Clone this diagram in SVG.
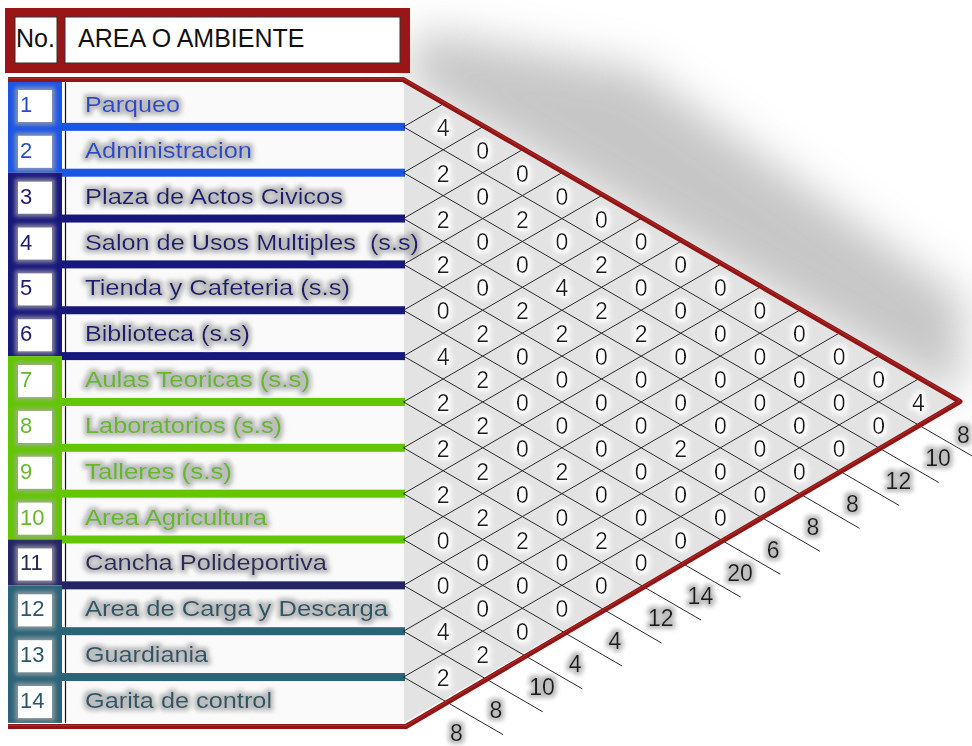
<svg xmlns="http://www.w3.org/2000/svg" width="972" height="746" viewBox="0 0 972 746">
<defs>
<style>
.t{font-family:"Liberation Sans",Arial,sans-serif}
.hd{font-size:25px;fill:#111}
.nm{font-size:22px}
.no{font-size:22px}
.v{font-size:23px;fill:#1a1a1a;text-anchor:middle}
.tot{font-size:23px;fill:#1a1a1a}
.grid line{stroke:#2a2a2a;stroke-width:1}
.blue{fill:#1b55e6}.navy{fill:#17177c}.green{fill:#62c600}.navy2{fill:#252566}.teal{fill:#2b6378}
.tblue{fill:#2b4bc8}.tnavy{fill:#1e1e70}.tgreen{fill:#66b82a}.tnavy2{fill:#2a2a5e}.tteal{fill:#2c5868}
.box{fill:#fff}
</style>
<filter id="halo" x="-20%" y="-40%" width="140%" height="180%">
<feMorphology in="SourceAlpha" operator="dilate" radius="2.5" result="d"/>
<feGaussianBlur in="d" stdDeviation="2" result="b"/>
<feFlood flood-color="#a8a8a8" flood-opacity="0.75"/>
<feComposite in2="b" operator="in" result="g"/>
<feMerge><feMergeNode in="g"/><feMergeNode in="SourceGraphic"/></feMerge>
</filter>
<filter id="wglow" x="-20%" y="-40%" width="140%" height="180%">
<feMorphology in="SourceAlpha" operator="dilate" radius="3" result="d"/>
<feGaussianBlur in="d" stdDeviation="2.5" result="b"/>
<feFlood flood-color="#ffffff"/>
<feComposite in2="b" operator="in" result="g"/>
<feMerge><feMergeNode in="g"/><feMergeNode in="SourceGraphic"/></feMerge>
</filter>
<filter id="blur" x="-30%" y="-30%" width="160%" height="160%"><feGaussianBlur stdDeviation="22"/></filter>
</defs>
<rect width="972" height="746" fill="#fff"/>
<!-- soft shadow top-right -->
<polygon points="420,30 640,70 965,300 958,400 405,82" fill="#b4b4b4" opacity="0.75" filter="url(#blur)"/>

<!-- header -->
<g id="header">
<rect x="5" y="8" width="405" height="65" fill="#9a1616"/>
<rect x="15" y="17" width="42" height="46" fill="#fff" stroke="#333" stroke-width="1"/>
<rect x="65" y="17" width="335" height="46" fill="#fff" stroke="#333" stroke-width="1"/>
<text class="t hd" x="16" y="47">No.</text>
<text class="t hd" x="78" y="47">AREA O AMBIENTE</text>
</g>

<!-- matrix background -->
<polygon points="403.5,81 957.9,401.95 403.5,722.9" fill="#e3e3e3"/>
<rect x="65" y="81" width="339" height="642" fill="#fafafa"/>

<!-- left number column -->
<g id="numcol">
<rect x="8" y="81" width="54" height="91.7" class="blue"/>
<rect x="8" y="172.7" width="54" height="183.4" class="navy"/>
<rect x="8" y="356.1" width="54" height="183.4" class="green"/>
<rect x="8" y="539.5" width="54" height="45.85" class="navy2"/>
<rect x="8" y="585.35" width="54" height="137.55" class="teal"/>
</g>
<line x1="65.5" y1="81" x2="65.5" y2="723" stroke="#111" stroke-width="1.2"/>

<!-- separator bars -->
<g id="bars">
<rect x="62" y="122.85" width="343" height="8" class="blue"/>
<rect x="62" y="168.7" width="343" height="8" class="blue"/>
<rect x="62" y="214.55" width="343" height="8" class="navy"/>
<rect x="62" y="260.4" width="343" height="8" class="navy"/>
<rect x="62" y="306.25" width="343" height="8" class="navy"/>
<rect x="62" y="352.1" width="343" height="8" class="navy"/>
<rect x="62" y="397.95" width="343" height="8" class="green"/>
<rect x="62" y="443.8" width="343" height="8" class="green"/>
<rect x="62" y="489.65" width="343" height="8" class="green"/>
<rect x="62" y="535.5" width="343" height="8" class="green"/>
<rect x="62" y="581.35" width="343" height="8" class="navy2"/>
<rect x="62" y="627.2" width="343" height="8" class="teal"/>
<rect x="62" y="673.05" width="343" height="8" class="teal"/>
</g>

<!-- rows -->
<g filter="url(#halo)">
<g id="row1"><rect x="18" y="90" width="34" height="32" class="box"/><text class="t no tblue" x="20" y="112">1</text><text class="t nm tblue" x="85" y="112" textLength="95" lengthAdjust="spacingAndGlyphs">Parqueo</text></g>
<g id="row2"><rect x="18" y="135.85" width="34" height="32" class="box"/><text class="t no tblue" x="20" y="157.8">2</text><text class="t nm tblue" x="85" y="157.8" textLength="167" lengthAdjust="spacingAndGlyphs">Administracion</text></g>
<g id="row3"><rect x="18" y="181.7" width="34" height="32" class="box"/><text class="t no tnavy" x="20" y="203.6">3</text><text class="t nm tnavy" x="85" y="203.6" textLength="258" lengthAdjust="spacingAndGlyphs">Plaza de Actos Civicos</text></g>
<g id="row4"><rect x="18" y="227.55" width="34" height="32" class="box"/><text class="t no tnavy" x="20" y="249.5">4</text><text class="t nm tnavy" x="85" y="249.5" textLength="334" lengthAdjust="spacingAndGlyphs">Salon de Usos Multiples&#160; (s.s)</text></g>
<g id="row5"><rect x="18" y="273.4" width="34" height="32" class="box"/><text class="t no tnavy" x="20" y="295.3">5</text><text class="t nm tnavy" x="85" y="295.3" textLength="265" lengthAdjust="spacingAndGlyphs">Tienda y Cafeteria (s.s)</text></g>
<g id="row6"><rect x="18" y="319.25" width="34" height="32" class="box"/><text class="t no tnavy" x="20" y="341.2">6</text><text class="t nm tnavy" x="85" y="341.2" textLength="165" lengthAdjust="spacingAndGlyphs">Biblioteca (s.s)</text></g>
<g id="row7"><rect x="18" y="365.1" width="34" height="32" class="box"/><text class="t no tgreen" x="20" y="387">7</text><text class="t nm tgreen" x="85" y="387" textLength="225" lengthAdjust="spacingAndGlyphs">Aulas Teoricas (s.s)</text></g>
<g id="row8"><rect x="18" y="410.95" width="34" height="32" class="box"/><text class="t no tgreen" x="20" y="432.9">8</text><text class="t nm tgreen" x="85" y="432.9" textLength="197" lengthAdjust="spacingAndGlyphs">Laboratorios (s.s)</text></g>
<g id="row9"><rect x="18" y="456.8" width="34" height="32" class="box"/><text class="t no tgreen" x="20" y="478.7">9</text><text class="t nm tgreen" x="85" y="478.7" textLength="147" lengthAdjust="spacingAndGlyphs">Talleres (s.s)</text></g>
<g id="row10"><rect x="18" y="502.65" width="34" height="32" class="box"/><text class="t no tgreen" x="20" y="524.6">10</text><text class="t nm tgreen" x="85" y="524.6" textLength="182" lengthAdjust="spacingAndGlyphs">Area Agricultura</text></g>
<g id="row11"><rect x="18" y="548.5" width="34" height="32" class="box"/><text class="t no tnavy2" x="20" y="570.4">11</text><text class="t nm tnavy2" x="85" y="570.4" textLength="242" lengthAdjust="spacingAndGlyphs">Cancha Polideportiva</text></g>
<g id="row12"><rect x="18" y="594.35" width="34" height="32" class="box"/><text class="t no tteal" x="20" y="616.3">12</text><text class="t nm tteal" x="85" y="616.3" textLength="303" lengthAdjust="spacingAndGlyphs">Area de Carga y Descarga</text></g>
<g id="row13"><rect x="18" y="640.2" width="34" height="32" class="box"/><text class="t no tteal" x="20" y="662.1">13</text><text class="t nm tteal" x="85" y="662.1" textLength="123" lengthAdjust="spacingAndGlyphs">Guardiania</text></g>
<g id="row14"><rect x="18" y="686.05" width="34" height="32" class="box"/><text class="t no tteal" x="20" y="708">14</text><text class="t nm tteal" x="85" y="708" textLength="187" lengthAdjust="spacingAndGlyphs">Garita de control</text></g>
</g>

<!-- grid connectors -->
<g id="connectors" class="grid">
<line x1="403.5" y1="126.85" x2="443.1" y2="103.93"/>
<line x1="403.5" y1="172.7" x2="482.7" y2="126.85"/>
<line x1="403.5" y1="218.55" x2="522.3" y2="149.78"/>
<line x1="403.5" y1="264.4" x2="561.9" y2="172.7"/>
<line x1="403.5" y1="310.25" x2="601.5" y2="195.63"/>
<line x1="403.5" y1="356.1" x2="641.1" y2="218.55"/>
<line x1="403.5" y1="401.95" x2="680.7" y2="241.48"/>
<line x1="403.5" y1="447.8" x2="720.3" y2="264.4"/>
<line x1="403.5" y1="493.65" x2="759.9" y2="287.33"/>
<line x1="403.5" y1="539.5" x2="799.5" y2="310.25"/>
<line x1="403.5" y1="585.35" x2="839.1" y2="333.18"/>
<line x1="403.5" y1="631.2" x2="878.7" y2="356.1"/>
<line x1="403.5" y1="677.05" x2="918.3" y2="379.03"/>
<line x1="403.5" y1="126.85" x2="978.3" y2="459.58"/>
<line x1="403.5" y1="172.7" x2="938.7" y2="482.5"/>
<line x1="403.5" y1="218.55" x2="899.1" y2="505.43"/>
<line x1="403.5" y1="264.4" x2="859.5" y2="528.35"/>
<line x1="403.5" y1="310.25" x2="819.9" y2="551.28"/>
<line x1="403.5" y1="356.1" x2="780.3" y2="574.2"/>
<line x1="403.5" y1="401.95" x2="740.7" y2="597.13"/>
<line x1="403.5" y1="447.8" x2="701.1" y2="620.05"/>
<line x1="403.5" y1="493.65" x2="661.5" y2="642.98"/>
<line x1="403.5" y1="539.5" x2="621.9" y2="665.9"/>
<line x1="403.5" y1="585.35" x2="582.3" y2="688.83"/>
<line x1="403.5" y1="631.2" x2="542.7" y2="711.75"/>
<line x1="403.5" y1="677.05" x2="503.1" y2="734.68"/>
</g>

<!-- red frame -->
<path d="M8,79.5 H403 L960,401.5 L406,726.5 H8" fill="none" stroke="#921414" stroke-width="5" stroke-linejoin="round"/>
<path d="M8,78.5 H403 L960,400.5 L406,725.5 H8" fill="none" stroke="#c24040" stroke-width="1" stroke-linejoin="round" opacity="0.6"/>

<!-- matrix values -->
<g id="values" class="t v" filter="url(#wglow)">
<text x="443.1" y="135.85">4</text><text x="482.7" y="158.78">0</text><text x="522.3" y="181.7">0</text><text x="561.9" y="204.63">0</text><text x="601.5" y="227.55">0</text><text x="641.1" y="250.48">0</text><text x="680.7" y="273.4">0</text><text x="720.3" y="296.33">0</text><text x="759.9" y="319.25">0</text><text x="799.5" y="342.18">0</text><text x="839.1" y="365.1">0</text><text x="878.7" y="388.03">0</text><text x="918.3" y="410.95">4</text>
<text x="443.1" y="181.7">2</text><text x="482.7" y="204.63">0</text><text x="522.3" y="227.55">2</text><text x="561.9" y="250.48">0</text><text x="601.5" y="273.4">2</text><text x="641.1" y="296.33">0</text><text x="680.7" y="319.25">0</text><text x="720.3" y="342.18">0</text><text x="759.9" y="365.1">0</text><text x="799.5" y="388.03">0</text><text x="839.1" y="410.95">0</text><text x="878.7" y="433.88">0</text>
<text x="443.1" y="227.55">2</text><text x="482.7" y="250.48">0</text><text x="522.3" y="273.4">0</text><text x="561.9" y="296.33">4</text><text x="601.5" y="319.25">2</text><text x="641.1" y="342.18">2</text><text x="680.7" y="365.1">0</text><text x="720.3" y="388.03">0</text><text x="759.9" y="410.95">0</text><text x="799.5" y="433.88">0</text><text x="839.1" y="456.8">0</text>
<text x="443.1" y="273.4">2</text><text x="482.7" y="296.33">0</text><text x="522.3" y="319.25">2</text><text x="561.9" y="342.18">2</text><text x="601.5" y="365.1">0</text><text x="641.1" y="388.03">0</text><text x="680.7" y="410.95">0</text><text x="720.3" y="433.88">0</text><text x="759.9" y="456.8">0</text><text x="799.5" y="479.73">0</text>
<text x="443.1" y="319.25">0</text><text x="482.7" y="342.18">2</text><text x="522.3" y="365.1">0</text><text x="561.9" y="388.03">0</text><text x="601.5" y="410.95">0</text><text x="641.1" y="433.88">0</text><text x="680.7" y="456.8">2</text><text x="720.3" y="479.73">0</text><text x="759.9" y="502.65">0</text>
<text x="443.1" y="365.1">4</text><text x="482.7" y="388.03">2</text><text x="522.3" y="410.95">0</text><text x="561.9" y="433.88">0</text><text x="601.5" y="456.8">0</text><text x="641.1" y="479.73">0</text><text x="680.7" y="502.65">0</text><text x="720.3" y="525.58">0</text>
<text x="443.1" y="410.95">2</text><text x="482.7" y="433.88">2</text><text x="522.3" y="456.8">0</text><text x="561.9" y="479.73">2</text><text x="601.5" y="502.65">0</text><text x="641.1" y="525.58">0</text><text x="680.7" y="548.5">0</text>
<text x="443.1" y="456.8">2</text><text x="482.7" y="479.73">2</text><text x="522.3" y="502.65">0</text><text x="561.9" y="525.58">0</text><text x="601.5" y="548.5">2</text><text x="641.1" y="571.43">0</text>
<text x="443.1" y="502.65">2</text><text x="482.7" y="525.58">2</text><text x="522.3" y="548.5">2</text><text x="561.9" y="571.43">0</text><text x="601.5" y="594.35">0</text>
<text x="443.1" y="548.5">0</text><text x="482.7" y="571.43">0</text><text x="522.3" y="594.35">0</text><text x="561.9" y="617.28">0</text>
<text x="443.1" y="594.35">0</text><text x="482.7" y="617.28">0</text><text x="522.3" y="640.2">0</text>
<text x="443.1" y="640.2">4</text><text x="482.7" y="663.13">2</text>
<text x="443.1" y="686.05">2</text>
</g>

<!-- totals -->
<g id="totals" class="t tot" filter="url(#halo)">
<text x="957" y="443">8</text>
<text x="925.2" y="465.9">10</text>
<text x="885.6" y="488.8">12</text>
<text x="846" y="511.8">8</text>
<text x="806.4" y="534.7">8</text>
<text x="766.8" y="557.6">6</text>
<text x="727.2" y="580.5">20</text>
<text x="687.6" y="603.5">14</text>
<text x="648" y="626.4">12</text>
<text x="608.4" y="649.3">4</text>
<text x="568.8" y="672.2">4</text>
<text x="529.2" y="695.2">10</text>
<text x="489.6" y="718.1">8</text>
<text x="450" y="741">8</text>
</g>
</svg>
